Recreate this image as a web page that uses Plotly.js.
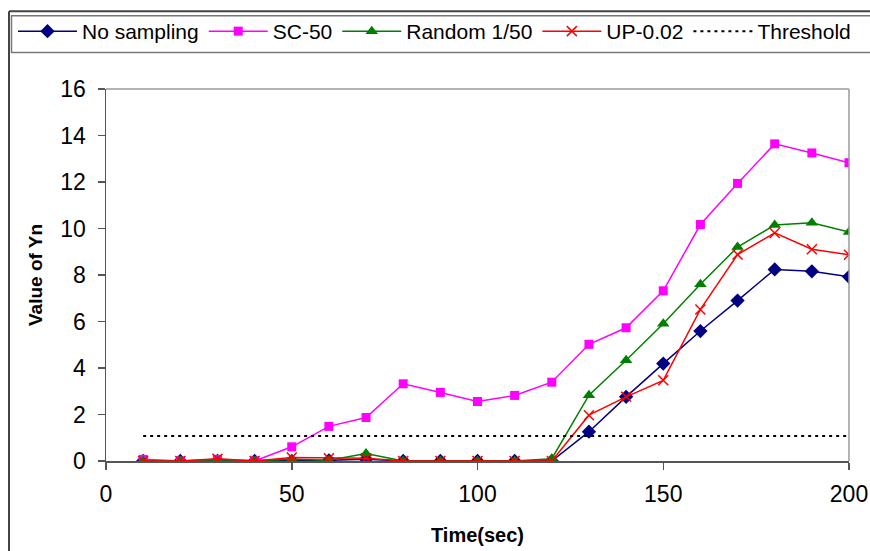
<!DOCTYPE html>
<html>
<head>
<meta charset="utf-8">
<script src="https://cdn.plot.ly/plotly-3.0.1.min.js"></script>
<style>
  html, body { margin: 0; padding: 0; background: #fff; }
  #chart { width: 870px; height: 551px; }
</style>
</head>
<body>
<div id="chart"></div>
<script>
// ---- data ----
var timeSec = [10, 20, 30, 40, 50, 60, 70, 80, 90, 100, 110, 120, 130, 140, 150, 160, 170, 180, 190, 200];
var noSampling = [0, 0, 0, 0, 0, 0.03, 0.08, 0, 0, 0, 0, 0, 1.26, 2.76, 4.19, 5.59, 6.9, 8.24, 8.16, 7.92];
var sc50 = [0.07, 0, 0.07, 0, 0.61, 1.49, 1.87, 3.32, 2.95, 2.56, 2.82, 3.39, 5.02, 5.73, 7.32, 10.17, 11.94, 13.64, 13.25, 12.83];
var random150 = [0, 0, 0, 0, 0.08, 0.03, 0.32, 0, 0, 0, 0, 0.1, 2.83, 4.33, 5.9, 7.6, 9.2, 10.15, 10.25, 9.85];
var up002 = [0, 0, 0.1, 0, 0.15, 0.12, 0.12, 0, 0, 0, 0, 0, 1.97, 2.76, 3.47, 6.52, 8.88, 9.81, 9.11, 8.87];
var thresholdX = [10, 200];
var thresholdY = [1.07, 1.07];
var seriesNames = ["No sampling", "SC-50", "Random 1/50", "UP-0.02", "Threshold"];
var xTicks = [0, 50, 100, 150, 200];
var yTicks = [0, 2, 4, 6, 8, 10, 12, 14, 16];

// ---- pixel geometry of plot area ----
var W = 870, H = 551;
var L = 106, R = 849, T = 88, B = 461;
function px(xp) { return (xp - L) / (R - L); }
function py(yp) { return (B - yp) / (B - T); }

var traces = [
  { x: timeSec, y: noSampling, name: seriesNames[0], mode: 'lines+markers',
    line: { color: '#000080', width: 1.5 },
    marker: { symbol: 'diamond', size: 11, color: '#000080' } },
  { x: timeSec, y: sc50, name: seriesNames[1], mode: 'lines+markers',
    line: { color: '#FF00FF', width: 1.5 },
    marker: { symbol: 'square', size: 9, color: '#FF00FF' } },
  { x: timeSec, y: random150, name: seriesNames[2], mode: 'lines+markers',
    line: { color: '#008000', width: 1.5 },
    marker: { symbol: 'triangle-up', size: 11, color: '#008000' } },
  { x: timeSec, y: up002, name: seriesNames[3], mode: 'lines+markers',
    line: { color: '#FF0000', width: 1.5 },
    marker: { symbol: 'x-thin-open', size: 10, color: '#FF0000', line: { color: '#FF0000', width: 1.5 } } },
  { x: thresholdX, y: thresholdY, name: seriesNames[4], mode: 'lines',
    line: { color: '#000000', width: 2, dash: '3px,4px' } }
];

var layout = {
  width: W, height: H,
  paper_bgcolor: '#ffffff', plot_bgcolor: '#ffffff',
  margin: { l: L, r: W - R, t: T, b: H - B, pad: 0 },
  font: { family: 'Liberation Sans, Arial, sans-serif', color: '#000' },
  showlegend: true,
  legend: {
    orientation: 'h', xref: 'paper', yref: 'paper',
    x: px(13), y: py(11), xanchor: 'left', yanchor: 'top',
    font: { size: 21, color: '#000' },
    bgcolor: 'rgba(0,0,0,0)', borderwidth: 0,
    itemwidth: 59, tracegroupgap: 0
  },
  xaxis: {
    range: [0, 200], tickvals: xTicks, ticktext: xTicks.map(String),
    showgrid: false, zeroline: false,
    showline: true, linecolor: '#555', linewidth: 1.5,
    ticks: 'outside', ticklen: 7, tickcolor: '#555', tickwidth: 1.5,
    tickfont: { size: 23, color: '#000' },
    ticklabelstandoff: 5,
    title: { text: '<b>Time(sec)</b>', font: { size: 20, color: '#000' }, standoff: 22 },
    fixedrange: true
  },
  yaxis: {
    range: [0, 16], tickvals: yTicks, ticktext: yTicks.map(String),
    showgrid: false, zeroline: false,
    showline: true, linecolor: '#555', linewidth: 1.5,
    ticks: 'outside', ticklen: 7, tickcolor: '#555', tickwidth: 1.5,
    tickfont: { size: 23, color: '#000' },
    ticklabelstandoff: 7,
    title: { text: '<b>Value of Yn</b>', font: { size: 19, color: '#000' }, standoff: 12 },
    fixedrange: true
  },
  shapes: [
    { type: 'line', xref: 'paper', yref: 'paper', x0: 0, x1: 1, y0: 1, y1: 1, line: { color: '#9a9a9a', width: 1.5 } },
    { type: 'line', xref: 'paper', yref: 'paper', x0: 1, x1: 1, y0: 0, y1: 1, line: { color: '#9a9a9a', width: 1.5 } },
    { type: 'line', xref: 'paper', yref: 'paper', x0: px(9), x1: px(880), y0: py(10), y1: py(10), line: { color: '#444', width: 2 } },
    { type: 'line', xref: 'paper', yref: 'paper', x0: px(9), x1: px(9), y0: py(10), y1: py(560), line: { color: '#444', width: 2 } },
    { type: 'rect', xref: 'paper', yref: 'paper', x0: px(11.5), x1: px(880), y0: py(14.5), y1: py(51.5),
      line: { color: '#777', width: 1.5 }, fillcolor: 'rgba(0,0,0,0)' }
  ]
};

Plotly.newPlot('chart', traces, layout, { displayModeBar: false, staticPlot: true });
</script>
</body>
</html>
